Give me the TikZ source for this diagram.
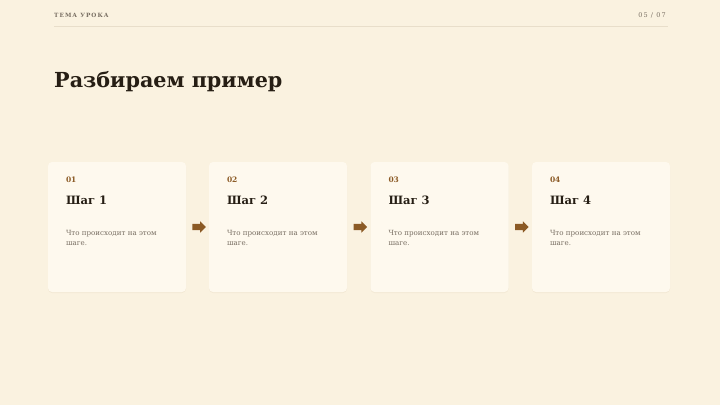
\documentclass[tikz,border=0pt]{standalone}
\usepackage{fontspec}
\setmainfont{DejaVu Serif}
\newfontfamily\spacedfont[LetterSpace=18]{DejaVu Serif}
\usetikzlibrary{calc,shapes.arrows,shadows}
\definecolor{pagebg}{RGB}{250,242,224}
\definecolor{cardbg}{RGB}{254,249,238}
\definecolor{ink}{RGB}{38,30,20}
\definecolor{muted}{RGB}{120,110,98}
\definecolor{rust}{RGB}{139,90,37}
\definecolor{rule}{RGB}{232,222,202}

\begin{document}
\begin{tikzpicture}[x=1pt,y=-1pt]
  \tikzset{card/.style={fill=cardbg,rounded corners=4pt,minimum width=138pt,minimum height=130pt,
      drop shadow={shadow xshift=0pt,shadow yshift=-1pt,opacity=0.06,fill=rust}},
    num/.style={anchor=base west,inner sep=0pt,text=rust,font=\bfseries\fontsize{7.5}{9}\selectfont},
    steptitle/.style={anchor=base west,inner sep=0pt,text=ink,font=\bfseries\fontsize{11.5}{13}\selectfont},
    desc/.style={anchor=base west,inner sep=0pt,text=muted,align=left,font=\fontsize{7.1}{10}\selectfont},
    nextarrow/.style={single arrow,fill=rust,inner sep=3pt,minimum width=11pt,minimum height=13.5pt,
      single arrow head extend=2.5pt}};
  \fill[pagebg] (0,0) rectangle (720,405);
  % header
  \node[anchor=base west,inner sep=0pt,text=muted,font=\spacedfont\bfseries\fontsize{5.8}{7}\selectfont] (topic) at (54,17.5) {ТЕМА УРОКА};
  \node[anchor=base east,inner sep=0pt,text=muted,font=\spacedfont\fontsize{6.5}{8}\selectfont] (page) at (666,17.5) {05 / 07};
  \coordinate (ruleL) at (54,26);
  \coordinate (ruleR) at (668,26);
  \draw[rule,line width=0.6pt] (ruleL) -- (ruleR);
  \node[anchor=base west,inner sep=0pt,text=ink,font=\bfseries\fontsize{20.7}{24}\selectfont] (title) at (54,87) {Разбираем пример};
  % cards
  \node[card] (c1) at (117,227) {};
  \node[card] (c2) at (278,227) {};
  \node[card] (c3) at (439.5,227) {};
  \node[card] (c4) at (601,227) {};
  \node[num] (n1) at ($(c1.north west)+(18,21)$) {01};
  \node[num] (n2) at ($(c2.north west)+(18,21)$) {02};
  \node[num] (n3) at ($(c3.north west)+(18,21)$) {03};
  \node[num] (n4) at ($(c4.north west)+(18,21)$) {04};
  \node[steptitle] (t1) at ($(c1.north west)+(18,42.5)$) {Шаг 1};
  \node[steptitle] (t2) at ($(c2.north west)+(18,42.5)$) {Шаг 2};
  \node[steptitle] (t3) at ($(c3.north west)+(18,42.5)$) {Шаг 3};
  \node[steptitle] (t4) at ($(c4.north west)+(18,42.5)$) {Шаг 4};
  \node[desc] (d1) at ($(c1.north west)+(18,84)$) {Что происходит на этом\\шаге.};
  \node[desc] (d2) at ($(c2.north west)+(18,84)$) {Что происходит на этом\\шаге.};
  \node[desc] (d3) at ($(c3.north west)+(18,84)$) {Что происходит на этом\\шаге.};
  \node[desc] (d4) at ($(c4.north west)+(18,84)$) {Что происходит на этом\\шаге.};
  % arrows between the cards
  \node[nextarrow] (a12) at ($(c1.east)!0.5!(c2.west)$) {};
  \node[nextarrow] (a23) at ($(c2.east)!0.5!(c3.west)$) {};
  \node[nextarrow] (a34) at ($(c3.east)!0.5!(c4.west)$) {};
\end{tikzpicture}
\end{document}
